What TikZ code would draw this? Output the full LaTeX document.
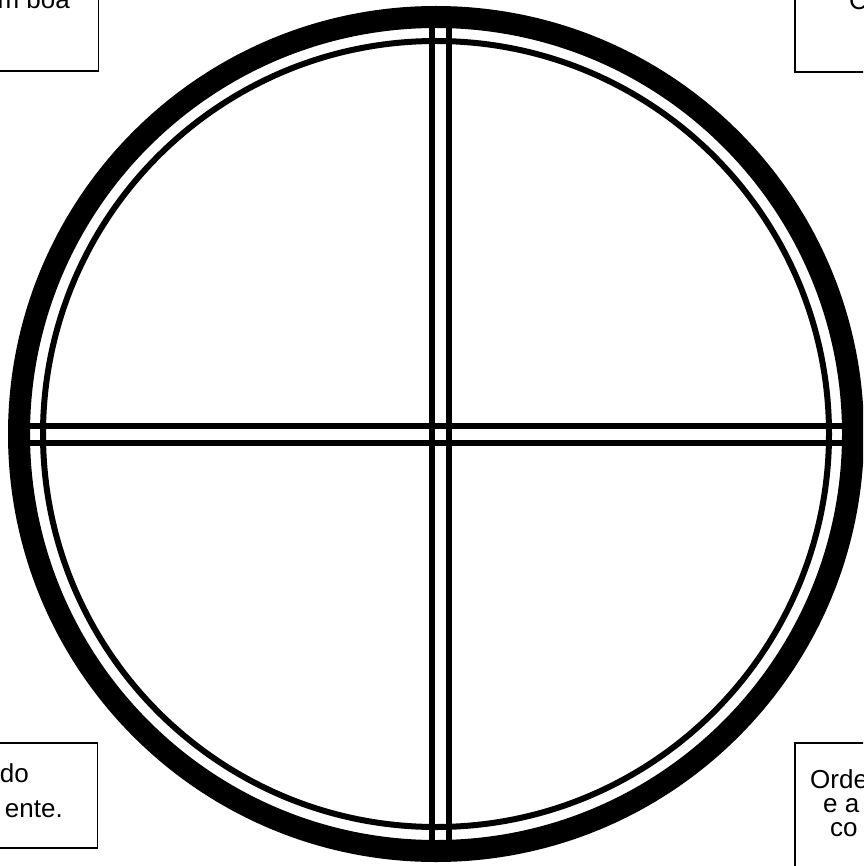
\documentclass[tikz,border=0pt]{standalone}
\usepackage{fontspec}
\setmainfont{Liberation Sans}
\begin{document}
\begin{tikzpicture}[x=1pt,y=-1pt,
  ringthick/.style={line width=22pt},
  ringthin/.style={line width=6pt},
  bar/.style={line width=6pt},
  box/.style={draw,line width=1.5pt,fill=white,inner sep=0pt},
  txt/.style={font=\fontsize{26}{31}\selectfont,inner sep=0pt}]
\useasboundingbox (0,0) rectangle (863,866);
\begin{scope}
\clip (0,0) rectangle (863,866);
\fill[white] (0,0) rectangle (863,866);
\coordinate (c) at (436,434);
% cross bars
\coordinate (v1a) at (431.5,28); \coordinate (v1b) at (431.5,840);
\coordinate (v2a) at (448.5,28); \coordinate (v2b) at (448.5,840);
\coordinate (h1a) at (30,425.5); \coordinate (h1b) at (842,425.5);
\coordinate (h2a) at (30,442.5); \coordinate (h2b) at (842,442.5);
\draw[bar] (v1a) -- (v1b);
\draw[bar] (v2a) -- (v2b);
\draw[bar] (h1a) -- (h1b);
\draw[bar] (h2a) -- (h2b);
\draw[ringthin] (c) circle[radius=393];
\draw[ringthick] (c) circle[radius=417];
% boxes
\node[box,minimum width=200pt,minimum height=173pt,anchor=south east] (tl) at (99,72) {};
\node[box,minimum width=200pt,minimum height=173pt,anchor=south west] (tr) at (794,73) {};
\node[box,minimum width=200pt,minimum height=105pt,anchor=north east] (bl) at (98,742) {};
\node[box,minimum width=200pt,minimum height=200pt,anchor=north west] (br) at (794,742) {};
% texts
\node[txt,anchor=base east] (tlt) at (70,9) {m boa};
\node[txt,anchor=base west] (trt) at (849,10) {C};
\node[txt,anchor=base east] (blt1) at (29,782) {do};
\node[txt,anchor=base east] (blt2) at (63,817) {ente.};
\node[txt,anchor=base west] (brt1) at (810,788) {Orde};
\node[txt,anchor=base west] (brt2) at (823,812) {e a};
\node[txt,anchor=base west] (brt3) at (830,836) {co};
\end{scope}
\end{tikzpicture}
\end{document}
